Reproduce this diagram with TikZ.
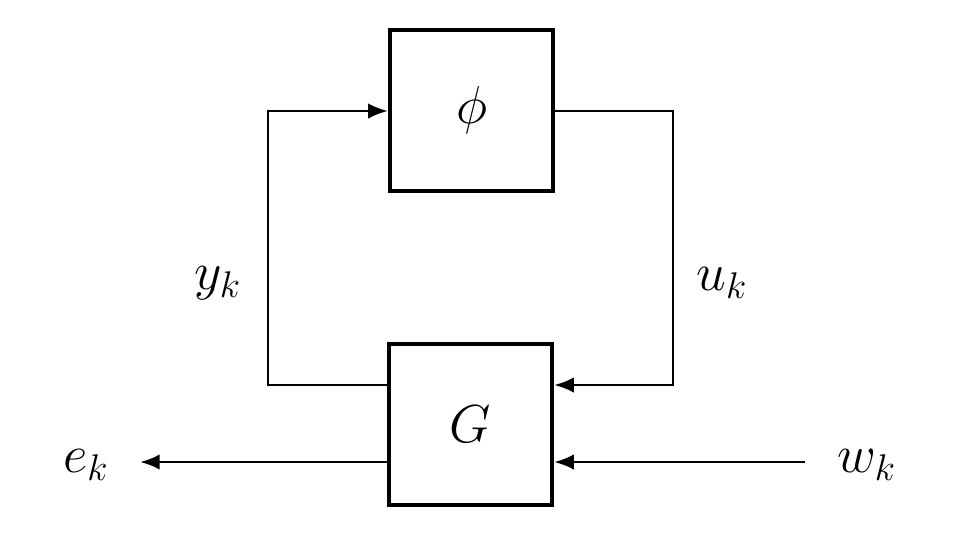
\documentclass[tikz,border=0pt]{standalone}
\usepackage{graphicx}
\usetikzlibrary{arrows.meta}
\newcommand{\bigsym}[1]{\scalebox{1.1}{$#1$}}

\begin{document}
\begin{tikzpicture}[x=0.0125cm, y=-0.0125cm]
    \tikzset{
        block/.style={draw, line width=1.4pt, minimum width=2.04cm, minimum height=2.02cm, font=\LARGE},
        sig/.style={line width=1pt, -{Latex[length=7pt, width=5.5pt]}},
        lbl/.style={font=\LARGE},
    }
    \useasboundingbox (0,0) rectangle (960,545);

    % Blocks
    \node[block] (phi) at (471.5, 110.5) {\bigsym{\phi}};
    \node[block] (G) at (470.5, 424.5) {\bigsym{G}};

    % Signal labels
    \node[lbl] (yk) at (218, 283) {\bigsym{y_k}};
    \node[lbl] (uk) at (722, 283) {\bigsym{u_k}};
    \node[lbl] (ek) at (86, 465) {\bigsym{e_k}};
    \node[lbl] (wk) at (867, 465) {\bigsym{w_k}};

    % Corners
    \coordinate (yb) at (268, 385);
    \coordinate (yt) at (268, 111);
    \coordinate (ut) at (673, 111);
    \coordinate (ub) at (673, 385);
    \coordinate (eend) at (140, 462);
    \coordinate (wbeg) at (805, 462);

    % Connections
    \draw[sig] (yb -| G.west) -- (yb) -- (yt) -- (yt -| phi.west);
    \draw[sig] (ut -| phi.east) -- (ut) -- (ub) -- (ub -| G.east);
    \draw[sig] (eend -| G.west) -- (eend);
    \draw[sig] (wbeg) -- (wbeg -| G.east);

\end{tikzpicture}
\end{document}
